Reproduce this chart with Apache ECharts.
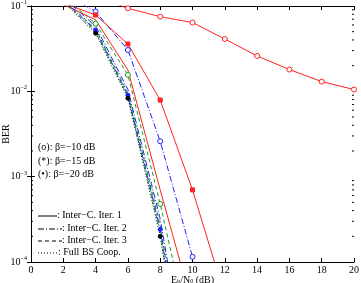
<!DOCTYPE html>
<html>
<head>
<meta charset="utf-8">
<script src="https://cdn.jsdelivr.net/npm/echarts@6/dist/echarts.min.js"></script>
<style>
  html, body { margin: 0; padding: 0; background: #fff; }
  #chart-container { width: 361px; height: 283px; }
</style>
</head>
<body>
<div id="chart-container"></div>
<script>
// Eb/N0 points (dB)
const snr = [0, 2, 4, 6, 8, 10, 12, 14, 16, 18, 20];

// beta = -10 dB (o)
const b10It1 = [null, null, 0.13, 0.094, 0.075, 0.064, 0.041, 0.026, 0.018, 0.013, 0.0105];
const b10It2 = [null, 0.14, 0.086, 0.0305, 0.0026, 1.15e-4, null, null, null, null, null];
const b10It3 = [null, 0.13, 0.062, 0.0156, 4.8e-4, 1e-5, null, null, null, null, null];
// beta = -15 dB (*)
const b15It1 = [null, 0.108, 0.0785, 0.0359, 0.0079, 7e-4, 4e-5, null, null, null, null];
const b15It2 = [null, 0.125, 0.058, 0.0105, 3.2e-4, 2e-6, null, null, null, null, null];
const b15It3 = [null, 0.12, 0.054, 0.0095, 2.7e-4, 1.5e-6, null, null, null, null, null];
// beta = -20 dB (.)
const b20It1 = [null, 0.104, 0.069, 0.0178, 7e-4, 3e-5, null, null, null, null, null];
const b20It2 = [null, 0.118, 0.052, 0.009, 2.4e-4, 1.2e-6, null, null, null, null, null];
const b20It3 = [null, 0.115, 0.05, 0.0087, 2.2e-4, 1e-6, null, null, null, null, null];
const fullCoop = [null, 0.112, 0.048, 0.0083, 2.0e-4, 8e-7, null, null, null, null, null];

// minor tick values of the log axis
const minorTickVals = [];
[1e-4, 1e-3, 1e-2].forEach(d => {
  [2, 3, 4, 5, 6, 7, 8, 9].forEach(k => minorTickVals.push(k * d));
});

var dom = document.getElementById("chart-container");
var myChart = echarts.init(dom, null, { renderer: "canvas" });

const FONT = "Liberation Serif";
const RED = "#ff2020", BLUE = "#2020ff", GREEN = "#1a9a1a", BLACK = "#000";

function pairs(ys) {
  const out = [];
  ys.forEach((y, i) => { if (y !== null) out.push([snr[i], y]); });
  return out;
}

function mk(name, ys, color, type, symbol, size, filled) {
  return {
    name: name,
    type: "line",
    data: pairs(ys),
    clip: true,
    symbol: symbol,
    symbolSize: size,
    showSymbol: symbol !== "none",
    lineStyle: { color: color, width: 1, type: type },
    itemStyle: {
      color: filled ? color : "#fff",
      borderColor: color,
      borderWidth: 1
    },
    animation: false,
    z: 3
  };
}

const dashDot = [6, 2, 1, 2];
const dashed = [4, 3];
const dotted = [1, 2];

const series = [
  mk("b10It1", b10It1, RED, "solid", "circle", 5, false),
  mk("b10It2", b10It2, BLUE, dashDot, "circle", 5, false),
  mk("b10It3", b10It3, GREEN, dashed, "circle", 5, false),
  mk("b15It1", b15It1, RED, "solid", "rect", 4, true),
  mk("b15It2", b15It2, BLUE, dashDot, "none", 3, true),
  mk("b15It3", b15It3, GREEN, dashed, "none", 3, true),
  mk("b20It1", b20It1, RED, "solid", "none", 4, true),
  mk("b20It2", b20It2, BLUE, dashDot, "circle", 4, true),
  mk("b20It3", b20It3, GREEN, dashed, "none", 4, true),
  mk("fullCoop", fullCoop, BLACK, dotted, "circle", 4, true),
  {
    // minor ticks on both sides of the log axis
    type: "custom",
    silent: true,
    clip: false,
    data: minorTickVals.map(v => [0, v]),
    renderItem: function (params, api) {
      const v = api.value(1);
      const l = api.coord([0, v]);
      const r = api.coord([20, v]);
      return {
        type: "group",
        children: [
          { type: "line", shape: { x1: l[0], y1: l[1], x2: l[0] + 2, y2: l[1] }, style: { stroke: "#000", lineWidth: 1 } },
          { type: "line", shape: { x1: r[0] - 2, y1: r[1], x2: r[0], y2: r[1] }, style: { stroke: "#000", lineWidth: 1 } }
        ]
      };
    },
    z: 4
  }
];

const axisLine = { show: true, lineStyle: { color: "#000", width: 1 } };

function logAx(pos, labels) {
  return {
    type: "log",
    logBase: 10,
    min: 1e-4,
    max: 0.1,
    position: pos,
    axisLine: axisLine,
    splitLine: { show: false },
    axisTick: { show: true, inside: true, length: 4, lineStyle: { color: "#000" } },
    axisLabel: {
      show: labels,
      margin: 4,
      formatter: function (v) {
        const e = Math.round(Math.log10(v));
        return "{b|10}{s|\u2212" + (-e) + "}";
      },
      rich: {
        b: { fontFamily: FONT, fontSize: 10, color: "#000" },
        s: { fontFamily: FONT, fontSize: 6, color: "#000", padding: [0, 0, 7, 0] }
      }
    }
  };
}

const option = {
  backgroundColor: "#fff",
  animation: false,
  grid: { left: 31, right: 7, top: 6, bottom: 21, containLabel: false, outerBoundsMode: "none" },
  xAxis: [
    {
      type: "value",
      min: 0, max: 20, interval: 2,
      position: "bottom",
      axisLine: axisLine,
      splitLine: { show: false },
      axisTick: { inside: true, length: 4, lineStyle: { color: "#000" } },
      axisLabel: { fontFamily: FONT, fontSize: 10, color: "#000", margin: 3 },
      name: "{t|E}{s|b}{t|/N}{s|0}{t| (dB)}",
      nameLocation: "middle",
      nameGap: 13,
      nameMoveOverlap: false,
      nameTextStyle: {
        rich: {
          t: { fontFamily: FONT, fontSize: 10, color: "#000" },
          s: { fontFamily: FONT, fontSize: 6, color: "#000", padding: [3, 0, 0, 0] }
        }
      }
    },
    {
      type: "value",
      min: 0, max: 20, interval: 2,
      position: "top",
      axisLine: axisLine,
      splitLine: { show: false },
      axisTick: { inside: true, length: 4, lineStyle: { color: "#000" } },
      axisLabel: { show: false }
    }
  ],
  yAxis: [
    Object.assign(logAx("left", true), {
      name: "BER",
      nameLocation: "middle",
      nameGap: 20,
      nameMoveOverlap: false,
      nameTextStyle: { fontFamily: FONT, fontSize: 10, color: "#000" }
    }),
    logAx("right", false)
  ],
  series: series,
  graphic: [
    { type: "text", left: 38, top: 142, style: { text: "(o): \u03b2=\u221210 dB", font: "10px " + FONT, fill: "#000" } },
    { type: "text", left: 38, top: 156, style: { text: "(*): \u03b2=\u221215 dB", font: "10px " + FONT, fill: "#000" } },
    { type: "text", left: 38, top: 169, style: { text: "(\u2022): \u03b2=\u221220 dB", font: "10px " + FONT, fill: "#000" } },

    { type: "line", shape: { x1: 38, y1: 216, x2: 57, y2: 216 }, style: { stroke: "#000", lineWidth: 1 } },
    { type: "text", left: 57, top: 210, style: { text: ": Inter\u2212C. Iter. 1", font: "10px " + FONT, fill: "#000" } },
    { type: "line", shape: { x1: 38, y1: 229, x2: 62, y2: 229 }, style: { stroke: "#000", lineWidth: 1, lineDash: dashDot } },
    { type: "text", left: 62, top: 223, style: { text: ": Inter\u2212C. Iter. 2", font: "10px " + FONT, fill: "#000" } },
    { type: "line", shape: { x1: 38, y1: 241, x2: 62, y2: 241 }, style: { stroke: "#000", lineWidth: 1, lineDash: dashed } },
    { type: "text", left: 62, top: 235, style: { text: ": Inter\u2212C. Iter. 3", font: "10px " + FONT, fill: "#000" } },
    { type: "line", shape: { x1: 38, y1: 253, x2: 58, y2: 253 }, style: { stroke: "#000", lineWidth: 1, lineDash: dotted } },
    { type: "text", left: 58, top: 247, style: { text: ": Full BS Coop.", font: "10px " + FONT, fill: "#000" } }
  ]
};

myChart.setOption(option);
window.addEventListener("resize", myChart.resize);
</script>
</body>
</html>
